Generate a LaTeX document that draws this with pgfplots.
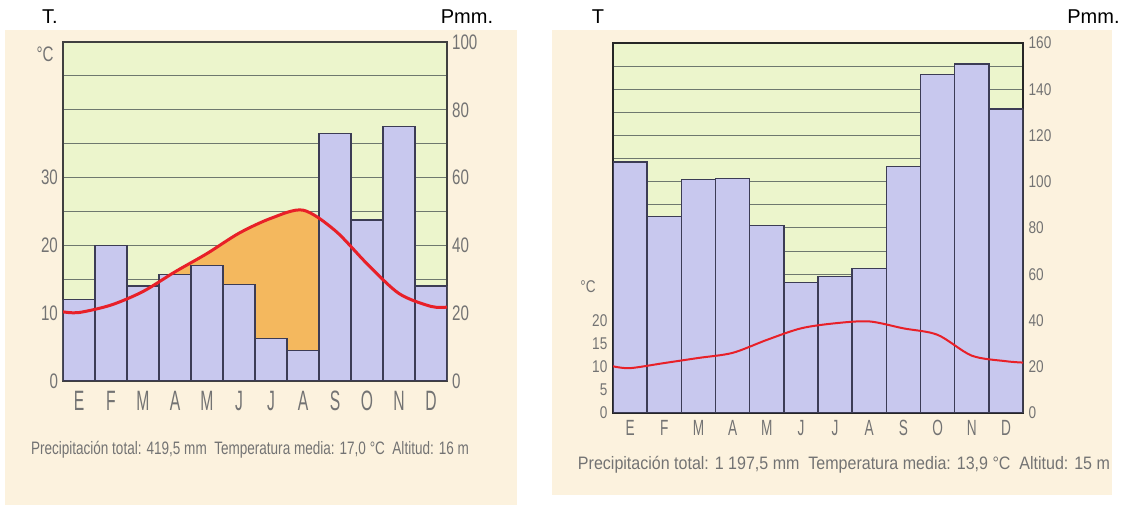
\documentclass[border=0pt]{standalone}
\usepackage{fontspec}
\setmainfont{Liberation Sans}
\usepackage{graphicx}
\usepackage{pgfplots}
\pgfplotsset{compat=1.18}

\definecolor{paper}{RGB}{252,242,222}
\definecolor{plotbg}{RGB}{236,245,204}
\definecolor{gridc}{RGB}{110,120,110}
\definecolor{barfill}{RGB}{200,200,238}
\definecolor{bardraw}{RGB}{60,60,85}
\definecolor{arid}{RGB}{244,184,94}
\definecolor{tcurve}{RGB}{232,32,40}
\definecolor{ticktext}{RGB}{115,115,115}

\pgfplotsset{
  clima/.style={scale only axis, anchor=south west, xmin=0, xmax=12,
    /pgf/number format/assume math mode=true, major tick length=0pt},
  months/.style={xtick={0.5,1.5,...,11.5},
    xticklabels={E,F,M,A,M,J,J,A,S,O,N,D}},
}

\begin{document}
\begin{tikzpicture}
\path[use as bounding box] (0,0) rectangle (561pt,254pt);
\fill[paper] (2.5pt,1.5pt) rectangle (258.5pt,239pt);
\fill[paper] (276pt,6.5pt) rectangle (556pt,239pt);

% ---------- left climogram ----------
\begin{axis}[clima, at={(31.5pt,63.5pt)}, width=192pt, height=169.5pt,
  ymin=0, ymax=50, axis background/.style={fill=plotbg},
  axis line style={draw=none}, xtick=\empty,
  ytick={0,5,...,50}, yticklabels={0,{},10,{},20,{},30,{},{},{},{}},
  ymajorgrids, grid style={gridc, line width=0.5pt},
  yticklabel style={font=\fontsize{10.5}{10.5}\selectfont, text=ticktext, xscale=0.72}]
\addplot[fill=arid, draw=none, smooth] coordinates {
  (0,10.2) (0.5,10.1) (1.5,11.2) (2.5,13.2) (3.5,16.1) (4.5,18.8) (5.5,21.8)
  (6.5,24.0) (7.5,25.2) (8.5,22.2) (9.5,17.3) (10.5,12.9) (11.5,11.0) (12,10.9)
} \closedcycle;
\end{axis}
\begin{axis}[clima, at={(31.5pt,63.5pt)}, width=192pt, height=169.5pt,
  ymin=0, ymax=100, ytick={0,20,...,100}, ytick pos=right, yticklabel pos=right,
  months, axis line style={draw=black!75, line width=0.9pt},
  yticklabel style={font=\fontsize{10.5}{10.5}\selectfont, text=ticktext, xscale=0.72},
  xticklabel style={font=\fontsize{14}{14}\selectfont, text=ticktext, xscale=0.56, yshift=-1.5pt}]
\addplot[ybar, bar width=1, bar shift=0pt, fill=barfill, draw=bardraw, line width=0.7pt]
  coordinates {
  (0.5,24) (1.5,40) (2.5,28) (3.5,31.5) (4.5,34) (5.5,28.5)
  (6.5,12.5) (7.5,9) (8.5,73) (9.5,47.5) (10.5,75) (11.5,28)
};
\end{axis}
\begin{axis}[clima, at={(31.5pt,63.5pt)}, width=192pt, height=169.5pt,
  ymin=0, ymax=50, hide axis]
\addplot[tcurve, line width=1.5pt, smooth, no markers] coordinates {
  (0,10.2) (0.5,10.1) (1.5,11.2) (2.5,13.2) (3.5,16.1) (4.5,18.8) (5.5,21.8)
  (6.5,24.0) (7.5,25.2) (8.5,22.2) (9.5,17.3) (10.5,12.9) (11.5,11.0) (12,10.9)
};
\end{axis}
\node[text=ticktext, font=\fontsize{10.5}{10.5}\selectfont, xscale=0.72] at (22.5pt,227pt) {°C};
\node[font=\fontsize{10}{10}\selectfont] at (25pt,245.5pt) {T.};
\node[font=\fontsize{10}{10}\selectfont] at (233.5pt,245.5pt) {Pmm.};
\node[text=ticktext, font=\fontsize{9}{9}\selectfont] at (125pt,29pt)
  {\resizebox{219pt}{\height}{Precipitación total: 419,5 mm\ \ Temperatura media: 17,0 °C\ \ Altitud: 16 m}};

% ---------- right climogram ----------
\begin{axis}[clima, at={(306.5pt,47.5pt)}, width=205pt, height=185pt,
  ymin=0, ymax=80, axis background/.style={fill=plotbg},
  axis line style={draw=none}, xtick=\empty,
  ytick={0,5,...,80},
  yticklabels={0,5,10,15,20,{},{},{},{},{},{},{},{},{},{},{},{}},
  ymajorgrids, grid style={gridc, line width=0.5pt},
  yticklabel style={font=\fontsize{8.5}{8.5}\selectfont, text=ticktext, xscale=0.8}]
\end{axis}
\begin{axis}[clima, at={(306.5pt,47.5pt)}, width=205pt, height=185pt,
  ymin=0, ymax=160, ytick={0,20,...,160}, ytick pos=right, yticklabel pos=right,
  months, axis line style={draw=black!85, line width=0.9pt},
  yticklabel style={font=\fontsize{8.5}{8.5}\selectfont, text=ticktext, xscale=0.8},
  xticklabel style={font=\fontsize{11}{11}\selectfont, text=ticktext, xscale=0.62}]
\addplot[ybar, bar width=1, bar shift=0pt, fill=barfill, draw=bardraw, line width=0.7pt]
  coordinates {
  (0.5,108.5) (1.5,85) (2.5,101) (3.5,101.5) (4.5,81) (5.5,56.5)
  (6.5,59) (7.5,62.5) (8.5,106.5) (9.5,146.5) (10.5,151) (11.5,131.5)
};
\end{axis}
\begin{axis}[clima, at={(306.5pt,47.5pt)}, width=205pt, height=185pt,
  ymin=0, ymax=80, hide axis]
\addplot[tcurve, line width=1pt, smooth, no markers] coordinates {
  (0,10.1) (0.5,9.7) (1.5,10.8) (2.5,11.9) (3.5,13.0) (4.5,15.8) (5.5,18.3)
  (6.5,19.4) (7.5,19.8) (8.5,18.3) (9.5,16.9) (10.5,12.4) (11.5,11.2) (12,10.9)
};
\end{axis}
\node[text=ticktext, font=\fontsize{8.5}{8.5}\selectfont, xscale=0.8] at (294pt,110.5pt) {°C};
\node[font=\fontsize{10}{10}\selectfont] at (299pt,245.5pt) {T};
\node[font=\fontsize{10}{10}\selectfont, anchor=east, inner xsep=0pt] at (560pt,245.5pt) {Pmm.};
\node[text=ticktext, font=\fontsize{9}{9}\selectfont] at (422pt,21.5pt)
  {\resizebox{266pt}{\height}{Precipitación total: 1 197,5 mm\ \ Temperatura media: 13,9 °C\ \ Altitud: 15 m}};
\end{tikzpicture}
\end{document}
